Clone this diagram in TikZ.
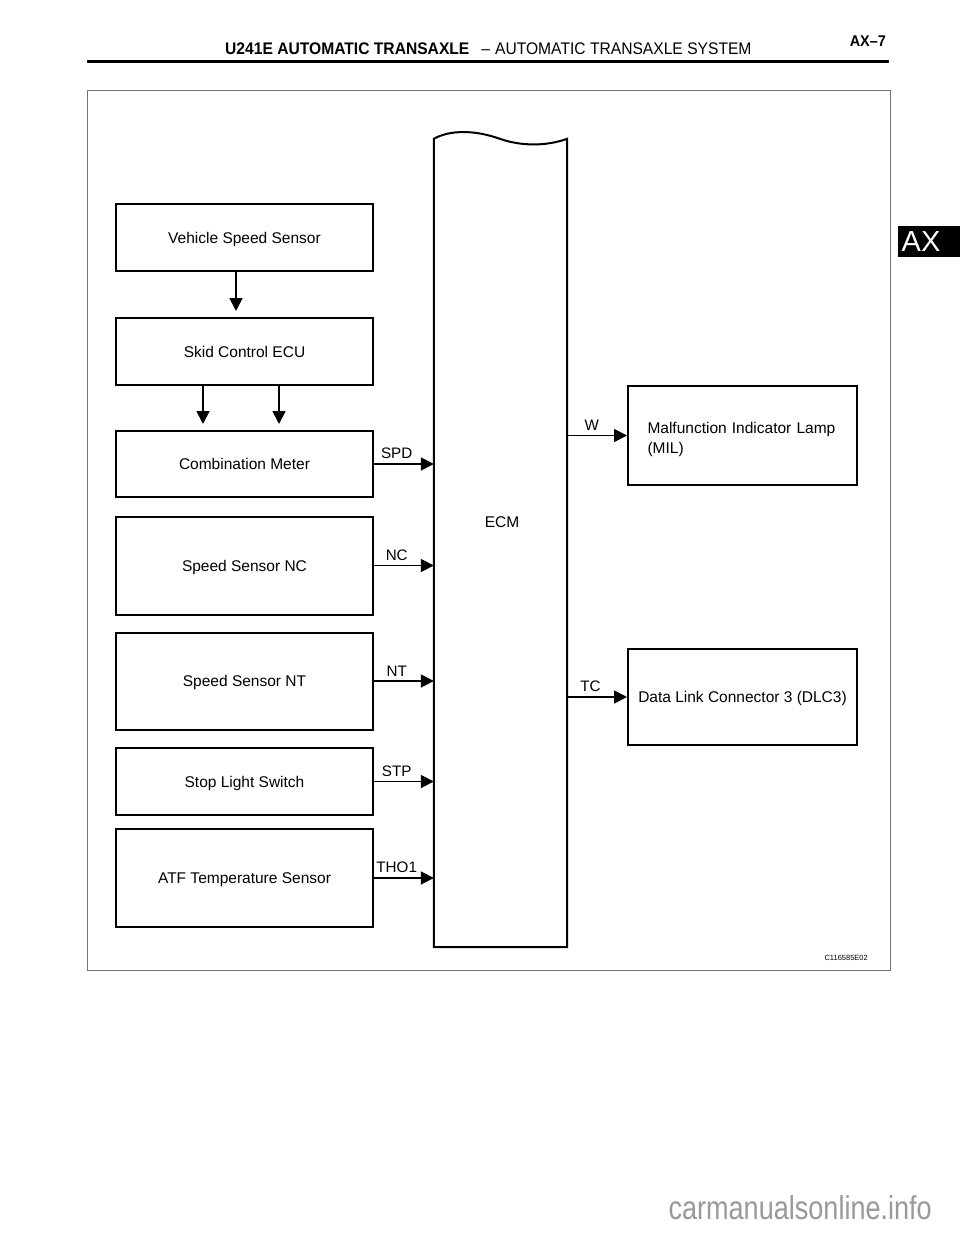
\documentclass[tikz,border=0pt]{standalone}
\usepackage{fontspec}
\setmainfont{Liberation Sans}
\newfontfamily\hdrfont{Liberation Sans}[FakeStretch=0.93]
\newfontfamily\wmfont{Liberation Sans}[FakeStretch=0.82]
\usetikzlibrary{arrows.meta,calc}
\begin{document}
\begin{tikzpicture}[x=1pt,y=-1pt,
  blk/.style={draw, line width=2pt, minimum width=257pt, inner sep=2pt,
              font=\fontsize{15.5}{19}\selectfont, text depth=-2pt},
  rblk/.style={draw, line width=2pt, minimum width=229pt, inner sep=2pt,
              font=\fontsize{15.5}{19.5}\selectfont},
  arr/.style={-{Triangle[width=13pt,length=13pt]}, line width=1.8pt},
  sig/.style={font=\fontsize{15.2}{17}\selectfont, inner sep=1pt, above=3pt},
  frame/.style={draw=black!55, line width=1pt}
]
\useasboundingbox (0,0) rectangle (960,1242);
\fill[white] (0,0) rectangle (960,1242);

% header
\node[anchor=base west, inner sep=0pt, font=\hdrfont\fontsize{16.8}{20}\selectfont] (hdr) at (225,54)
  {\textbf{U241E AUTOMATIC TRANSAXLE}\hspace{12pt}–\hspace{5pt}AUTOMATIC TRANSAXLE SYSTEM};
\node[anchor=base east, inner sep=0pt, font=\hdrfont\fontsize{15.5}{18}\selectfont\bfseries] (page) at (886,46) {AX–7};
\draw[line width=3pt] (87,61) -- (889,61);

% side tab
\fill[black] (898,226) rectangle (960,257);
\node[text=white, inner sep=0pt, font=\fontsize{29}{32}\selectfont] (tab) at (921,242) {AX};

% frame
\draw[frame] (87,90) rectangle (890,970);
\node[anchor=east, inner sep=0pt, font=\fontsize{7.5}{9}\selectfont] (code) at (868,958) {C116585E02};

% left blocks
\node[blk, minimum height=67pt] (vss) at (244.5,237.5) {Vehicle Speed Sensor};
\node[blk, minimum height=67pt] (skid) at (244.5,351.5) {Skid Control ECU};
\node[blk, minimum height=66pt] (comb) at (244.5,464) {Combination Meter};
\node[blk, minimum height=98pt] (nc) at (244.5,565.5) {Speed Sensor NC};
\node[blk, minimum height=97pt] (nt) at (244.5,681) {Speed Sensor NT};
\node[blk, minimum height=67pt] (stp) at (244.5,781.5) {Stop Light Switch};
\node[blk, minimum height=98pt] (atf) at (244.5,878) {ATF Temperature Sensor};

% ECM
\node[minimum width=133pt, minimum height=808pt, inner sep=0pt] (ecm) at (500.5,543) {};
\draw[line width=2pt] (ecm.south west) -- (ecm.north west)
  .. controls ($(ecm.north west)+(16,-9)$) and ($(ecm.north west)+(41,-9)$) .. ($(ecm.north west)+(66,0)$)
  .. controls ($(ecm.north west)+(86,7)$) and ($(ecm.north west)+(111,8)$) .. (ecm.north east)
  -- (ecm.south east) -- cycle;
\node[font=\fontsize{15.5}{19}\selectfont] (ecmlbl) at (502,522) {ECM};

% right blocks
\node[rblk, minimum height=99pt, text width=190pt, align=left] (mil) at (742.5,435.5)
  {\rule{0pt}{19pt}Malfunction Indicator Lamp\\(MIL)};
\node[rblk, minimum height=96pt, text depth=-2pt] (dlc) at (742.5,697) {Data Link Connector 3 (DLC3)};

% vertical arrows
\coordinate (c1) at (236,0);
\coordinate (c2) at (203,0);
\coordinate (c3) at (279,0);
\draw[arr, shorten >=6pt] (c1 |- vss.south) -- (c1 |- skid.north);
\draw[arr, shorten >=6pt] (c2 |- skid.south) -- (c2 |- comb.north);
\draw[arr, shorten >=6pt] (c3 |- skid.south) -- (c3 |- comb.north);

% signals into ECM
\draw[arr] (comb.east) -- node[sig, pos=0.38] {SPD} (comb.east -| ecm.west);
\draw[arr] (nc.east) -- node[sig, pos=0.38] {NC} (nc.east -| ecm.west);
\draw[arr] (nt.east) -- node[sig, pos=0.38] {NT} (nt.east -| ecm.west);
\draw[arr] (stp.east) -- node[sig, pos=0.38] {STP} (stp.east -| ecm.west);
\draw[arr] (atf.east) -- node[sig, pos=0.38] {THO1} (atf.east -| ecm.west);

% signals out of ECM
\draw[arr] (mil.west -| ecm.east) -- node[sig, pos=0.41] {W} (mil.west);
\draw[arr] (dlc.west -| ecm.east) -- node[sig, pos=0.39] {TC} (dlc.west);

% watermark
\node[anchor=east, inner sep=0pt, text=black!40, font=\wmfont\fontsize{33}{36}\selectfont] (wm) at (932,1208) {carmanualsonline.info};
\end{tikzpicture}
\end{document}
